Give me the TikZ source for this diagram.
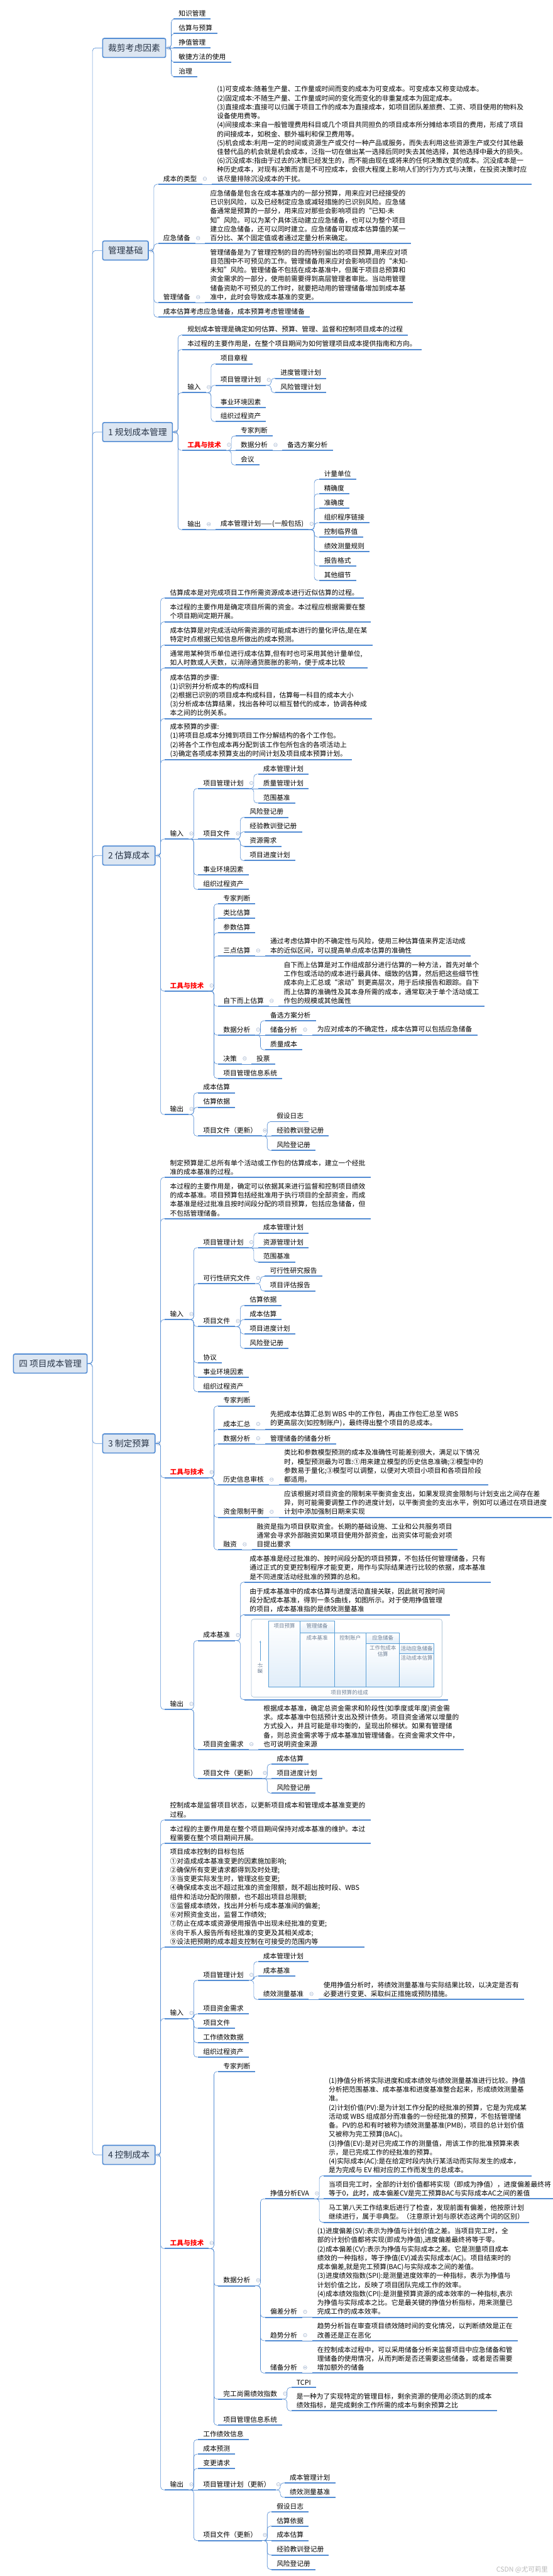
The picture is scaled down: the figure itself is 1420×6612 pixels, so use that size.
\documentclass[tikz,border=0pt]{standalone}
\usepackage{fontspec}
\setmainfont{Noto Sans CJK SC}
\usetikzlibrary{positioning,calc,arrows.meta}
\definecolor{LineBlue}{RGB}{84,141,212}
\definecolor{BoxFill}{RGB}{220,230,242}
\definecolor{BoxText}{RGB}{42,54,72}
\definecolor{FoldGray}{RGB}{165,182,208}
\definecolor{ToolRed}{RGB}{255,0,0}
\definecolor{CellBlue}{RGB}{88,158,214}
\definecolor{CellFill}{RGB}{224,237,249}
\definecolor{CellText}{RGB}{112,130,152}
\definecolor{FrameGray}{RGB}{176,198,216}

\begin{document}
\begin{tikzpicture}[
    x=1pt, y=-1pt,
    font=\fontsize{17.3}{23}\selectfont,
    uline/.style={draw=LineBlue, line width=3.2pt},
    fold/.style={draw=FoldGray, line width=0.9pt,
        to path={circle[radius=4.5pt] ++(-2.5pt,0) -- ++(5pt,0)}},
    topic/.style={anchor=south west, inner xsep=13pt, inner ysep=6pt, align=left,
        append after command={(\tikzlastnode.south west) edge[uline] (\tikzlastnode.south east)}},
    hub/.style={topic,
        append after command={([xshift=7pt]\tikzlastnode.east) edge[fold] ([xshift=7pt]\tikzlastnode.east)}},
    tools/.style={text=ToolRed, font=\fontsize{17.3}{23}\selectfont\bfseries},
    branch/.style={rectangle, rounded corners=4pt, draw=LineBlue, line width=2.6pt, fill=BoxFill,
        text=BoxText, font=\fontsize{22.3}{26}\selectfont, minimum height=49pt, inner xsep=14pt, anchor=west},
    branchhub/.style={branch,
        append after command={([xshift=7pt]\tikzlastnode.east) edge[fold] ([xshift=7pt]\tikzlastnode.east)}},
    link/.style={draw=LineBlue, line width=1pt, rounded corners=8pt},
    cell/.style={draw=CellBlue, line width=1.3pt, top color=white, bottom color=CellFill},
    celltext/.style={font=\fontsize{13.7}{16}\selectfont, text=CellText, align=center}
]
\fill[white] (0,0) rectangle (1420,6612);
\useasboundingbox (0,0) rectangle (1420,6612);

% root and main branches
\node[branch, anchor=east] (root) at (225,3500) {四 项目成本管理};
\node[branchhub] (tailor) at (262.5,123) {裁剪考虑因素};
\node[branchhub] (basics) at (262.5,643) {管理基础};
\node[branchhub] (plan) at (262.5,1109) {1 规划成本管理};
\node[branchhub] (est) at (262.5,2196) {2 估算成本};
\node[branchhub] (bud) at (262.5,3705) {3 制定预算};
\node[branchhub] (ctl) at (262.5,5531) {4 控制成本};

\draw[link] (root.east) -- ++(12.5,0) |- (tailor.west);
\draw[link] (root.east) -- ++(12.5,0) |- (basics.west);
\draw[link] (root.east) -- ++(12.5,0) |- (plan.west);
\draw[link] (root.east) -- ++(12.5,0) |- (est.west);
\draw[link] (root.east) -- ++(12.5,0) |- (bud.west);
\draw[link] (root.east) -- ++(12.5,0) |- (ctl.west);

% 裁剪考虑因素
\node[topic] (tknow) at ($(tailor.east |- 0,49)+(19,0)$) {知识管理};
\node[topic] (testi) at ($(tailor.east |- 0,86)+(19,0)$) {估算与预算};
\node[topic] (tev) at ($(tailor.east |- 0,123)+(19,0)$) {挣值管理};
\node[topic] (tagile) at ($(tailor.east |- 0,160)+(19,0)$) {敏捷方法的使用};
\node[topic] (tgov) at ($(tailor.east |- 0,197)+(19,0)$) {治理};
\draw[link] (tailor.east) -- ++(13,0) |- (tknow.south west);
\draw[link] (tailor.east) -- ++(13,0) |- (testi.south west);
\draw[link] (tailor.east) -- (tev.south west);
\draw[link] (tailor.east) -- ++(13,0) |- (tagile.south west);
\draw[link] (tailor.east) -- ++(13,0) |- (tgov.south west);

% 管理基础
\node[hub] (types) at ($(basics.east |- 0,473)+(24,0)$) {成本的类型};
\node[topic] (typesnote) at ($(types.south east |- 0,473)+(25,0)$) {(1)可变成本:随着生产量、工作量或时间而变的成本为可变成本。可变成本又称变动成本。\\(2)固定成本:不随生产量、工作量或时间的变化而变化的非重复成本为固定成本。\\(3)直接成本:直接可以归属于项目工作的成本为直接成本，如项目团队差旅费、工资、项目使用的物料及\\设备使用费等。\\(4)间接成本:来自一般管理费用科目或几个项目共同担负的项目成本所分摊给本项目的费用，形成了项目\\的间接成本，如税金、额外福利和保卫费用等。\\(5)机会成本:利用一定的时间或资源生产或交付一种产品或服务，而失去利用这些资源生产或交付其他最\\佳替代品的机会就是机会成本，泛指一切在做出某一选择后同时失去其他选择，其他选择中最大的损失。\\(6)沉没成本:指由于过去的决策已经发生的，而不能由现在或将来的任何决策改变的成本。沉没成本是一\\种历史成本，对现有决策而言是不可控成本，会很大程度上影响人们的行为方式与决策，在投资决策时应\\该尽量排除沉没成本的干扰。};
\node[hub] (cres) at ($(basics.east |- 0,625.4)+(24,0)$) {应急储备};
\node[topic] (cresnote) at ($(cres.south east |- 0,625.4)+(25,0)$) {应急储备是包含在成本基准内的一部分预算，用来应对已经接受的\\已识别风险，以及已经制定应急或减轻措施的已识别风险。应急储\\备通常是预算的一部分，用来应对那些会影响项目的“已知-未\\知”风险。可以为某个具体活动建立应急储备，也可以为整个项目\\建立应急储备，还可以同时建立。应急储备可取成本估算值的某一\\百分比、某个固定值或者通过定量分析来确定。};
\node[hub] (mres) at ($(basics.east |- 0,777)+(24,0)$) {管理储备};
\node[topic] (mresnote) at ($(mres.south east |- 0,777)+(25,0)$) {管理储备是为了管理控制的目的而特别留出的项目预算,用来应对项\\目范围中不可预见的工作。管理储备用来应对会影响项目的“未知-\\未知”风险。管理储备不包括在成本基准中，但属于项目总预算和\\资金需求的一部分，使用前需要得到高层管理者审批。当动用管理\\储备资助不可预见的工作时，就要把动用的管理储备增加到成本基\\准中，此时会导致成本基准的变更。};
\node[topic] (resnote) at ($(basics.east |- 0,814)+(24,0)$) {成本估算考虑应急储备，成本预算考虑管理储备};
\draw[link] (basics.east) -- ++(13,0) |- (types.south west);
\draw[link] (basics.east) -- ++(13,0) |- (cres.south west);
\draw[link] (basics.east) -- ++(13,0) |- (mres.south west);
\draw[link] (basics.east) -- ++(13,0) |- (resnote.south west);
\draw[link] (types.south east) -- (typesnote.south west);
\draw[link] (cres.south east) -- (cresnote.south west);
\draw[link] (mres.south east) -- (mresnote.south west);

% 1 规划成本管理
\node[topic] (pdef) at ($(plan.east |- 0,860)+(24,0)$) {规划成本管理是确定如何估算、预算、管理、监督和控制项目成本的过程};
\node[topic] (prole) at ($(plan.east |- 0,897)+(24,0)$) {本过程的主要作用是，在整个项目期间为如何管理项目成本提供指南和方向。};
\node[hub] (pin) at ($(plan.east |- 0,1008)+(24,0)$) {输入};
\node[topic] (pin1) at ($(pin.south east |- 0,934)+(24,0)$) {项目章程};
\node[hub] (pin2) at ($(pin.south east |- 0,989)+(24,0)$) {项目管理计划};
\node[topic] (pin2a) at ($(pin2.south east |- 0,971)+(24,0)$) {进度管理计划};
\node[topic] (pin2b) at ($(pin2.south east |- 0,1008)+(24,0)$) {风险管理计划};
\node[topic] (pin3) at ($(pin.south east |- 0,1046)+(24,0)$) {事业环境因素};
\node[topic] (pin4) at ($(pin.south east |- 0,1082)+(24,0)$) {组织过程资产};
\node[hub, tools] (ptt) at ($(plan.east |- 0,1156)+(24,0)$) {工具与技术};
\node[topic] (ptt1) at ($(ptt.south east |- 0,1119)+(24,0)$) {专家判断};
\node[hub] (ptt2) at ($(ptt.south east |- 0,1156)+(24,0)$) {数据分析};
\node[topic] (ptt2a) at ($(ptt2.south east |- 0,1156)+(24,0)$) {备选方案分析};
\node[topic] (ptt3) at ($(ptt.south east |- 0,1193.6)+(24,0)$) {会议};
\node[hub] (pout) at ($(plan.east |- 0,1359.6)+(24,0)$) {输出};
\node[hub] (pcmp) at ($(pout.south east |- 0,1359.6)+(24,0)$) {成本管理计划——(一般包括)};
\node[topic] (pc1) at ($(pcmp.south east |- 0,1230.7)+(26,0)$) {计量单位};
\node[topic] (pc2) at ($(pcmp.south east |- 0,1267.7)+(26,0)$) {精确度};
\node[topic] (pc3) at ($(pcmp.south east |- 0,1304.7)+(26,0)$) {准确度};
\node[topic] (pc4) at ($(pcmp.south east |- 0,1341.7)+(26,0)$) {组织程序链接};
\node[topic] (pc5) at ($(pcmp.south east |- 0,1378.7)+(26,0)$) {控制临界值};
\node[topic] (pc6) at ($(pcmp.south east |- 0,1415.7)+(26,0)$) {绩效测量规则};
\node[topic] (pc7) at ($(pcmp.south east |- 0,1452.7)+(26,0)$) {报告格式};
\node[topic] (pc8) at ($(pcmp.south east |- 0,1489.7)+(26,0)$) {其他细节};
\draw[link] (plan.east) -- ++(13,0) |- (pdef.south west);
\draw[link] (plan.east) -- ++(13,0) |- (prole.south west);
\draw[link] (plan.east) -- ++(13,0) |- (pin.south west);
\draw[link] (plan.east) -- ++(13,0) |- (ptt.south west);
\draw[link] (plan.east) -- ++(13,0) |- (pout.south west);
\draw[link] (pin.south east) -- ++(13,0) |- (pin1.south west);
\draw[link] (pin.south east) -- ++(13,0) |- (pin2.south west);
\draw[link] (pin.south east) -- ++(13,0) |- (pin3.south west);
\draw[link] (pin.south east) -- ++(13,0) |- (pin4.south west);
\draw[link] (pin2.south east) -- ++(13,0) |- (pin2a.south west);
\draw[link] (pin2.south east) -- ++(13,0) |- (pin2b.south west);
\draw[link] (ptt.south east) -- ++(13,0) |- (ptt1.south west);
\draw[link] (ptt.south east) -- (ptt2.south west);
\draw[link] (ptt.south east) -- ++(13,0) |- (ptt3.south west);
\draw[link] (ptt2.south east) -- (ptt2a.south west);
\draw[link] (pout.south east) -- (pcmp.south west);
\draw[link] (pcmp.south east) -- ++(14,0) |- (pc1.south west);
\draw[link] (pcmp.south east) -- ++(14,0) |- (pc2.south west);
\draw[link] (pcmp.south east) -- ++(14,0) |- (pc3.south west);
\draw[link] (pcmp.south east) -- ++(14,0) |- (pc4.south west);
\draw[link] (pcmp.south east) -- ++(14,0) |- (pc5.south west);
\draw[link] (pcmp.south east) -- ++(14,0) |- (pc6.south west);
\draw[link] (pcmp.south east) -- ++(14,0) |- (pc7.south west);
\draw[link] (pcmp.south east) -- ++(14,0) |- (pc8.south west);

% 2 估算成本
\node[topic] (edef) at ($(est.east |- 0,1535)+(24,0)$) {估算成本是对完成项目工作所需资源成本进行近似估算的过程。};
\node[topic] (erole) at ($(est.east |- 0,1596)+(24,0)$) {本过程的主要作用是确定项目所需的资金。本过程应根据需要在整\\个项目期间定期开展。};
\node[topic] (ewhat) at ($(est.east |- 0,1655.7)+(24,0)$) {成本估算是对完成活动所需资源的可能成本进行的量化评估,是在某\\特定时点根据已知信息所做出的成本预测。};
\node[topic] (eunit) at ($(est.east |- 0,1715)+(24,0)$) {通常用某种货币单位进行成本估算,但有时也可采用其他计量单位,\\如人时数或人天数，以消除通货膨胀的影响，便于成本比较};
\node[topic] (esteps) at ($(est.east |- 0,1844.6)+(24,0)$) {成本估算的步骤:\\(1)识别并分析成本的构成科目\\(2)根据已识别的项目成本构成科目，估算每一科目的成本大小\\(3)分析成本估算结果，找出各种可以相互替代的成本，协调各种成\\本之间的比例关系。};
\node[topic] (bsteps) at ($(est.east |- 0,1950.7)+(24,0)$) {成本预算的步骤:\\(1)将项目总成本分摊到项目工作分解结构的各个工作包。\\(2)将各个工作包成本再分配到该工作包所包含的各项活动上\\(3)确定各项成本预算支出的时间计划及项目成本预算计划。};
\node[hub] (ein) at ($(est.east |- 0,2153.6)+(24,0)$) {输入};
\node[hub] (ein1) at ($(ein.south east |- 0,2024)+(24,0)$) {项目管理计划};
\node[topic] (ein1a) at ($(ein1.south east |- 0,1987)+(24,0)$) {成本管理计划};
\node[topic] (ein1b) at ($(ein1.south east |- 0,2024)+(24,0)$) {质量管理计划};
\node[topic] (ein1c) at ($(ein1.south east |- 0,2061)+(24,0)$) {范围基准};
\node[hub] (ein2) at ($(ein.south east |- 0,2153.6)+(24,0)$) {项目文件};
\node[topic] (ein2a) at ($(ein2.south east |- 0,2098)+(24,0)$) {风险登记册};
\node[topic] (ein2b) at ($(ein2.south east |- 0,2135)+(24,0)$) {经验教训登记册};
\node[topic] (ein2c) at ($(ein2.south east |- 0,2172)+(24,0)$) {资源需求};
\node[topic] (ein2d) at ($(ein2.south east |- 0,2209)+(24,0)$) {项目进度计划};
\node[topic] (ein3) at ($(ein.south east |- 0,2246)+(24,0)$) {事业环境因素};
\node[topic] (ein4) at ($(ein.south east |- 0,2283)+(24,0)$) {组织过程资产};
\node[hub, tools] (ett) at ($(est.east |- 0,2544)+(24,0)$) {工具与技术};
\node[topic] (ett1) at ($(ett.south east |- 0,2320)+(24,0)$) {专家判断};
\node[topic] (ett2) at ($(ett.south east |- 0,2357)+(24,0)$) {类比估算};
\node[topic] (ett3) at ($(ett.south east |- 0,2394.6)+(24,0)$) {参数估算};
\node[hub] (ett4) at ($(ett.south east |- 0,2454)+(24,0)$) {三点估算};
\node[topic] (ett4n) at ($(ett4.south east |- 0,2454)+(25,0)$) {通过考虑估算中的不确定性与风险，使用三种估算值来界定活动成\\本的近似区间，可以提高单点成本估算的准确性};
\node[hub] (ett5) at ($(ett.south east |- 0,2583)+(24,0)$) {自下而上估算};
\node[topic] (ett5n) at ($(ett5.south east |- 0,2583)+(25,0)$) {自下而上估算是对工作组成部分进行估算的一种方法，首先对单个\\工作包或活动的成本进行最具体、细致的估算，然后把这些细节性\\成本向上汇总或“滚动”到更高层次，用于后续报告和跟踪。自下\\而上估算的准确性及其本身所需的成本，通常取决于单个活动或工\\作包的规模或其他属性};
\node[hub] (ett6) at ($(ett.south east |- 0,2657)+(24,0)$) {数据分析};
\node[topic] (ett6a) at ($(ett6.south east |- 0,2620)+(25,0)$) {备选方案分析};
\node[hub] (ett6b) at ($(ett6.south east |- 0,2657)+(25,0)$) {储备分析};
\node[topic] (ett6bn) at ($(ett6b.south east |- 0,2657)+(25,0)$) {为应对成本的不确定性，成本估算可以包括应急储备};
\node[topic] (ett6c) at ($(ett6.south east |- 0,2694.6)+(25,0)$) {质量成本};
\node[hub] (ett7) at ($(ett.south east |- 0,2731)+(24,0)$) {决策};
\node[topic] (ett7a) at ($(ett7.south east |- 0,2731)+(24,0)$) {投票};
\node[topic] (ett8) at ($(ett.south east |- 0,2768)+(24,0)$) {项目管理信息系统};
\node[hub] (eout) at ($(est.east |- 0,2860.7)+(24,0)$) {输出};
\node[topic] (eout1) at ($(eout.south east |- 0,2805)+(24,0)$) {成本估算};
\node[topic] (eout2) at ($(eout.south east |- 0,2842)+(24,0)$) {估算依据};
\node[hub] (eout3) at ($(eout.south east |- 0,2916)+(24,0)$) {项目文件（更新）};
\node[topic] (eout3a) at ($(eout3.south east |- 0,2879)+(24,0)$) {假设日志};
\node[topic] (eout3b) at ($(eout3.south east |- 0,2916)+(24,0)$) {经验教训登记册};
\node[topic] (eout3c) at ($(eout3.south east |- 0,2953)+(24,0)$) {风险登记册};
\draw[link] (est.east) -- ++(13,0) |- (edef.south west);
\draw[link] (est.east) -- ++(13,0) |- (erole.south west);
\draw[link] (est.east) -- ++(13,0) |- (ewhat.south west);
\draw[link] (est.east) -- ++(13,0) |- (eunit.south west);
\draw[link] (est.east) -- ++(13,0) |- (esteps.south west);
\draw[link] (est.east) -- ++(13,0) |- (bsteps.south west);
\draw[link] (est.east) -- ++(13,0) |- (ein.south west);
\draw[link] (est.east) -- ++(13,0) |- (ett.south west);
\draw[link] (est.east) -- ++(13,0) |- (eout.south west);
\draw[link] (ein.south east) -- ++(13,0) |- (ein1.south west);
\draw[link] (ein.south east) -- (ein2.south west);
\draw[link] (ein.south east) -- ++(13,0) |- (ein3.south west);
\draw[link] (ein.south east) -- ++(13,0) |- (ein4.south west);
\draw[link] (ein1.south east) -- ++(13,0) |- (ein1a.south west);
\draw[link] (ein1.south east) -- (ein1b.south west);
\draw[link] (ein1.south east) -- ++(13,0) |- (ein1c.south west);
\draw[link] (ein2.south east) -- ++(13,0) |- (ein2a.south west);
\draw[link] (ein2.south east) -- ++(13,0) |- (ein2b.south west);
\draw[link] (ein2.south east) -- ++(13,0) |- (ein2c.south west);
\draw[link] (ein2.south east) -- ++(13,0) |- (ein2d.south west);
\draw[link] (ett.south east) -- ++(13,0) |- (ett1.south west);
\draw[link] (ett.south east) -- ++(13,0) |- (ett2.south west);
\draw[link] (ett.south east) -- ++(13,0) |- (ett3.south west);
\draw[link] (ett.south east) -- ++(13,0) |- (ett4.south west);
\draw[link] (ett.south east) -- ++(13,0) |- (ett5.south west);
\draw[link] (ett.south east) -- ++(13,0) |- (ett6.south west);
\draw[link] (ett.south east) -- ++(13,0) |- (ett7.south west);
\draw[link] (ett.south east) -- ++(13,0) |- (ett8.south west);
\draw[link] (ett4.south east) -- (ett4n.south west);
\draw[link] (ett5.south east) -- (ett5n.south west);
\draw[link] (ett6.south east) -- ++(13,0) |- (ett6a.south west);
\draw[link] (ett6.south east) -- (ett6b.south west);
\draw[link] (ett6.south east) -- ++(13,0) |- (ett6c.south west);
\draw[link] (ett6b.south east) -- (ett6bn.south west);
\draw[link] (ett7.south east) -- (ett7a.south west);
\draw[link] (eout.south east) -- ++(13,0) |- (eout1.south west);
\draw[link] (eout.south east) -- ++(13,0) |- (eout2.south west);
\draw[link] (eout.south east) -- ++(13,0) |- (eout3.south west);
\draw[link] (eout3.south east) -- ++(13,0) |- (eout3a.south west);
\draw[link] (eout3.south east) -- (eout3b.south west);
\draw[link] (eout3.south east) -- ++(13,0) |- (eout3c.south west);

% 3 制定预算
\node[topic] (bdef) at ($(bud.east |- 0,3022)+(24,0)$) {制定预算是汇总所有单个活动或工作包的估算成本，建立一个经批\\准的成本基准的过程。};
\node[topic] (brole) at ($(bud.east |- 0,3128)+(24,0)$) {本过程的主要作用是，确定可以依据其来进行监督和控制项目绩效\\的成本基准。项目预算包括经批准用于执行项目的全部资金，而成\\本基准是经过批准且按时间段分配的项目预算，包括应急储备，但\\不包括管理储备。};
\node[hub] (bin) at ($(bud.east |- 0,3387)+(24,0)$) {输入};
\node[hub] (bin1) at ($(bin.south east |- 0,3202.5)+(24,0)$) {项目管理计划};
\node[topic] (bin1a) at ($(bin1.south east |- 0,3165)+(24,0)$) {成本管理计划};
\node[topic] (bin1b) at ($(bin1.south east |- 0,3202.5)+(24,0)$) {资源管理计划};
\node[topic] (bin1c) at ($(bin1.south east |- 0,3239)+(24,0)$) {范围基准};
\node[hub] (bin2) at ($(bin.south east |- 0,3294.6)+(24,0)$) {可行性研究文件};
\node[topic] (bin2a) at ($(bin2.south east |- 0,3276)+(24,0)$) {可行性研究报告};
\node[topic] (bin2b) at ($(bin2.south east |- 0,3313.6)+(24,0)$) {项目评估报告};
\node[hub] (bin3) at ($(bin.south east |- 0,3405)+(24,0)$) {项目文件};
\node[topic] (bin3a) at ($(bin3.south east |- 0,3350.7)+(24,0)$) {估算依据};
\node[topic] (bin3b) at ($(bin3.south east |- 0,3387)+(24,0)$) {成本估算};
\node[topic] (bin3c) at ($(bin3.south east |- 0,3424)+(24,0)$) {项目进度计划};
\node[topic] (bin3d) at ($(bin3.south east |- 0,3461)+(24,0)$) {风险登记册};
\node[topic] (bin4) at ($(bin.south east |- 0,3498)+(24,0)$) {协议};
\node[topic] (bin5) at ($(bin.south east |- 0,3535)+(24,0)$) {事业环境因素};
\node[topic] (bin6) at ($(bin.south east |- 0,3572)+(24,0)$) {组织过程资产};
\node[hub, tools] (btt) at ($(bud.east |- 0,3793)+(24,0)$) {工具与技术};
\node[topic] (btt1) at ($(btt.south east |- 0,3609)+(24,0)$) {专家判断};
\node[hub] (btt2) at ($(btt.south east |- 0,3669)+(24,0)$) {成本汇总};
\node[topic] (btt2n) at ($(btt2.south east |- 0,3669)+(25,0)$) {先把成本估算汇总到 WBS 中的工作包，再由工作包汇总至 WBS\\的更高层次(如控制账户)，最终得出整个项目的总成本。};
\node[hub] (btt3) at ($(btt.south east |- 0,3706)+(24,0)$) {数据分析};
\node[topic] (btt3a) at ($(btt3.south east |- 0,3706)+(25,0)$) {管理储备的储备分析};
\node[hub] (btt4) at ($(btt.south east |- 0,3812)+(24,0)$) {历史信息审核};
\node[topic] (btt4n) at ($(btt4.south east |- 0,3812)+(26,0)$) {类比和参数模型预测的成本及准确性可能差别很大，满足以下情况\\时，模型预测最为可靠:①用来建立模型的历史信息准确;②模型中的\\参数易于量化;③模型可以调整，以便对大项目小项目和各项目阶段\\都适用。};
\node[hub] (btt5) at ($(btt.south east |- 0,3894.6)+(24,0)$) {资金限制平衡};
\node[topic] (btt5n) at ($(btt5.south east |- 0,3894.6)+(26,0)$) {应该根据对项目资金的限制来平衡资金支出，如果发现资金限制与计划支出之间存在差\\异，则可能需要调整工作的进度计划，以平衡资金的支出水平，例如可以通过在项目进度\\计划中添加强制日期来实现};
\node[hub] (btt6) at ($(btt.south east |- 0,3978)+(24,0)$) {融资};
\node[topic] (btt6n) at ($(btt6.south east |- 0,3978)+(25,0)$) {融资是指为项目获取资金。长期的基础设施、工业和公共服务项目\\通常会寻求外部融资如果项目使用外部资金，出资实体可能会对项\\目提出要求};
\node[hub] (bout) at ($(bud.east |- 0,4387.5)+(24,0)$) {输出};
\node[hub] (cbase) at ($(bout.south east |- 0,4211)+(24,0)$) {成本基准};
\node[topic] (cbase1) at ($(cbase.south east |- 0,4061)+(24,0)$) {成本基准是经过批准的、按时间段分配的项目预算，不包括任何管理储备，只有\\通过正式的变更控制程序才能变更，用作与实际结果进行比较的依据，成本基准\\是不同进度活动经批准的预算的总和。};
\node[topic] (cbase2) at ($(cbase.south east |- 0,4144.6)+(24,0)$) {由于成本基准中的成本估算与进度活动直接关联，因此就可按时间\\段分配成本基准，得到一条S曲线，如图所示。对于使用挣值管理\\的项目，成本基准指的是绩效测量基准};
\node[topic, minimum width=522pt, minimum height=212pt] (chart) at ($(cbase.south east |- 0,4362.5)+(24,0)$) {};
\begin{scope}[shift={(chart.south west)}]
  \draw[draw=FrameGray, line width=1.2pt, rounded corners=6pt, fill=white] (17.4,-206.5) rectangle (507.4,-6.5);
  \draw[cell] (62.4,-201.5) rectangle (142.4,-32.5);
  \draw[cell] (142.4,-201.5) rectangle (230.4,-170.5);
  \draw[cell] (142.4,-170.5) rectangle (230.4,-32.5);
  \draw[cell] (230.4,-170.5) rectangle (312.4,-32.5);
  \draw[cell] (312.4,-170.5) rectangle (398,-143.5);
  \draw[cell] (312.4,-143.5) rectangle (398,-32.5);
  \draw[cell] (398,-143.5) rectangle (486.4,-117.9);
  \draw[cell] (398,-117.9) rectangle (486.4,-32.5);
  \node[celltext] (ctbudget) at (102.4,-188.9) {项目预算};
  \node[celltext] (ctmres) at (186.4,-189.5) {管理储备};
  \node[celltext] (ctbase) at (186.4,-158.9) {成本基准};
  \node[celltext] (ctacct) at (271.4,-158.9) {控制账户};
  \node[celltext] (ctcres) at (355.2,-158.9) {应急储备};
  \node[celltext] (ctwp) at (355.2,-124.5) {工作包成本\\估算};
  \node[celltext] (ctares) at (442.2,-130.5) {活动应急储备};
  \node[celltext] (ctacost) at (442.2,-106.5) {活动成本估算};
  \node[celltext] (ctcap) at (269.4,-17.5) {项目预算的组成};
  \node[celltext, rotate=90] (ctaxis) at (40.4,-80.5) {累计};
  \draw[CellBlue, line width=0.9pt, -{Stealth[length=5pt]}] (40.4,-98.5) -- (40.4,-151.5);
\end{scope}
\node[hub] (bfund) at ($(bout.south east |- 0,4491)+(24,0)$) {项目资金需求};
\node[topic] (bfundn) at ($(bfund.south east |- 0,4491)+(25,0)$) {根据成本基准，确定总资金需求和阶段性(如季度或年度)资金需\\求。成本基准中包括预计支出及预计债务。项目资金通常以增量的\\方式投入，并且可能是非均衡的，呈现出阶梯状。如果有管理储\\备，则总资金需求等于成本基准加管理储备。在资金需求文件中，\\也可说明资金来源};
\node[hub] (bdocs) at ($(bout.south east |- 0,4565)+(24,0)$) {项目文件（更新）};
\node[topic] (bdocs1) at ($(bdocs.south east |- 0,4528)+(24,0)$) {成本估算};
\node[topic] (bdocs2) at ($(bdocs.south east |- 0,4565)+(24,0)$) {项目进度计划};
\node[topic] (bdocs3) at ($(bdocs.south east |- 0,4602.5)+(24,0)$) {风险登记册};
\draw[link] (bud.east) -- ++(13,0) |- (bdef.south west);
\draw[link] (bud.east) -- ++(13,0) |- (brole.south west);
\draw[link] (bud.east) -- ++(13,0) |- (bin.south west);
\draw[link] (bud.east) -- ++(13,0) |- (btt.south west);
\draw[link] (bud.east) -- ++(13,0) |- (bout.south west);
\draw[link] (bin.south east) -- ++(13,0) |- (bin1.south west);
\draw[link] (bin.south east) -- ++(13,0) |- (bin2.south west);
\draw[link] (bin.south east) -- ++(13,0) |- (bin3.south west);
\draw[link] (bin.south east) -- ++(13,0) |- (bin4.south west);
\draw[link] (bin.south east) -- ++(13,0) |- (bin5.south west);
\draw[link] (bin.south east) -- ++(13,0) |- (bin6.south west);
\draw[link] (bin1.south east) -- ++(13,0) |- (bin1a.south west);
\draw[link] (bin1.south east) -- (bin1b.south west);
\draw[link] (bin1.south east) -- ++(13,0) |- (bin1c.south west);
\draw[link] (bin2.south east) -- ++(13,0) |- (bin2a.south west);
\draw[link] (bin2.south east) -- ++(13,0) |- (bin2b.south west);
\draw[link] (bin3.south east) -- ++(13,0) |- (bin3a.south west);
\draw[link] (bin3.south east) -- ++(13,0) |- (bin3b.south west);
\draw[link] (bin3.south east) -- ++(13,0) |- (bin3c.south west);
\draw[link] (bin3.south east) -- ++(13,0) |- (bin3d.south west);
\draw[link] (btt.south east) -- ++(13,0) |- (btt1.south west);
\draw[link] (btt.south east) -- ++(13,0) |- (btt2.south west);
\draw[link] (btt.south east) -- ++(13,0) |- (btt3.south west);
\draw[link] (btt.south east) -- ++(13,0) |- (btt4.south west);
\draw[link] (btt.south east) -- ++(13,0) |- (btt5.south west);
\draw[link] (btt.south east) -- ++(13,0) |- (btt6.south west);
\draw[link] (btt2.south east) -- (btt2n.south west);
\draw[link] (btt3.south east) -- (btt3a.south west);
\draw[link] (btt4.south east) -- (btt4n.south west);
\draw[link] (btt5.south east) -- (btt5n.south west);
\draw[link] (btt6.south east) -- (btt6n.south west);
\draw[link] (bout.south east) -- ++(13,0) |- (cbase.south west);
\draw[link] (bout.south east) -- ++(13,0) |- (bfund.south west);
\draw[link] (bout.south east) -- ++(13,0) |- (bdocs.south west);
\draw[link] (cbase.south east) -- ++(13,0) |- (cbase1.south west);
\draw[link] (cbase.south east) -- ++(13,0) |- (cbase2.south west);
\draw[link] (cbase.south east) -- ++(13,0) |- (chart.south west);
\draw[link] (bfund.south east) -- (bfundn.south west);
\draw[link] (bdocs.south east) -- ++(13,0) |- (bdocs1.south west);
\draw[link] (bdocs.south east) -- (bdocs2.south west);
\draw[link] (bdocs.south east) -- ++(13,0) |- (bdocs3.south west);

% 4 控制成本
\node[topic] (cdef) at ($(ctl.east |- 0,4671.4)+(24,0)$) {控制成本是监督项目状态，以更新项目成本和管理成本基准变更的\\过程。};
\node[topic] (crole) at ($(ctl.east |- 0,4731.4)+(24,0)$) {本过程的主要作用是在整个项目期间保持对成本基准的维护。本过\\程需要在整个项目期间开展。};
\node[topic] (cgoal) at ($(ctl.east |- 0,4998)+(24,0)$) {项目成本控制的目标包括\\①对造成成本基准变更的因素施加影响;\\②确保所有变更请求都得到及时处理;\\③当变更实际发生时，管理这些变更;\\④确保成本支出不超过批准的资金限额，既不超出按时段、WBS\\组件和活动分配的限额，也不超出项目总限额;\\⑤监督成本绩效，找出并分析与成本基准间的偏差;\\⑥对照资金支出，监督工作绩效;\\⑦防止在成本或资源使用报告中出现未经批准的变更;\\⑧向干系人报告所有经批准的变更及其相关成本;\\⑨设法把预期的成本超支控制在可接受的范围内等};
\node[hub] (cin) at ($(ctl.east |- 0,5181)+(24,0)$) {输入};
\node[hub] (cin1) at ($(cin.south east |- 0,5083)+(24,0)$) {项目管理计划};
\node[topic] (cin1a) at ($(cin1.south east |- 0,5035)+(24,0)$) {成本管理计划};
\node[topic] (cin1b) at ($(cin1.south east |- 0,5072)+(24,0)$) {成本基准};
\node[hub] (cin1c) at ($(cin1.south east |- 0,5132)+(24,0)$) {绩效测量基准};
\node[topic] (cin1cn) at ($(cin1c.south east |- 0,5132)+(25,0)$) {使用挣值分析时，将绩效测量基准与实际结果比较，以决定是否有\\必要进行变更、采取纠正措施或预防措施。};
\node[topic] (cin2) at ($(cin.south east |- 0,5169)+(24,0)$) {项目资金需求};
\node[topic] (cin3) at ($(cin.south east |- 0,5206)+(24,0)$) {项目文件};
\node[topic] (cin4) at ($(cin.south east |- 0,5243)+(24,0)$) {工作绩效数据};
\node[topic] (cin5) at ($(cin.south east |- 0,5280)+(24,0)$) {组织过程资产};
\node[hub, tools] (ctt) at ($(ctl.east |- 0,5771.4)+(24,0)$) {工具与技术};
\node[topic] (ctt1) at ($(ctt.south east |- 0,5317)+(24,0)$) {专家判断};
\node[hub] (ctt2) at ($(ctt.south east |- 0,5867)+(24,0)$) {数据分析};
\node[hub] (eva) at ($(ctt2.south east |- 0,5644)+(25,0)$) {挣值分析EVA};
\node[topic] (eva1) at ($(eva.south east |- 0,5584.6)+(24,0)$) {(1)挣值分析将实际进度和成本绩效与绩效测量基准进行比较。挣值\\分析把范围基准、成本基准和进度基准整合起来，形成绩效测量基\\准。\\(2)计划价值(PV):是为计划工作分配的经批准的预算，它是为完成某\\活动或 WBS 组成部分而准备的一份经批准的预算，不包括管理储\\备。PV的总和有时被称为绩效测量基准(PMB)，项目的总计划价值\\又被称为完工预算(BAC)。\\(3)挣值(EV):是对已完成工作的测量值，用该工作的批准预算来表\\示，是已完成工作的经批准的预算。\\(4)实际成本(AC):是在给定时段内执行某活动而实际发生的成本，\\是为完成与 EV 相对应的工作而发生的总成本。};
\node[topic] (eva2) at ($(eva.south east |- 0,5644)+(24,0)$) {当项目完工时，全部的计划价值都将实现（即成为挣值），进度偏差最终将\\等于0，此时，成本偏差CV是完工预算BAC与实际成本AC之间的差值};
\node[topic] (eva3) at ($(eva.south east |- 0,5704)+(24,0)$) {马工第八天工作结束后进行了检查，发现前面有偏差，他按原计划\\继续进行，属于非典型。（注意原计划与原状态这两个词的区别）};
\node[hub] (cvar) at ($(ctt2.south east |- 0,5948)+(25,0)$) {偏差分析};
\node[topic] (cvarn) at ($(cvar.south east |- 0,5948)+(25,0)$) {(1)进度偏差(SV):表示为挣值与计划价值之差。当项目完工时，全\\部的计划价值都将实现(即成为挣值),进度偏差最终将等于零。\\(2)成本偏差(CV):表示为挣值与实际成本之差。它是测量项目成本\\绩效的一种指标，等于挣值(EV)减去实际成本(AC)。项目结束时的\\成本偏差,就是完工预算(BAC)与实际成本之间的差值。\\(3)进度绩效指数(SPI):是测量进度效率的一种指标，表示为挣值与\\计划价值之比，反映了项目团队完成工作的效率。\\(4)成本绩效指数(CPI):是测量预算资源的成本效率的一种指标,表示\\为挣值与实际成本之比。它是最关键的挣值分析指标，用来测量已\\完成工作的成本效率。};
\node[hub] (ctrend) at ($(ctt2.south east |- 0,6008)+(25,0)$) {趋势分析};
\node[topic] (ctrendn) at ($(ctrend.south east |- 0,6008)+(25,0)$) {趋势分析旨在审查项目绩效随时间的变化情况，以判断绩效是正在\\改善还是正在恶化};
\node[hub] (cresv) at ($(ctt2.south east |- 0,6091)+(25,0)$) {储备分析};
\node[topic] (cresvn) at ($(cresv.south east |- 0,6091)+(25,0)$) {在控制成本过程中，可以采用储备分析来监督项目中应急储备和管\\理储备的使用情况，从而判断是否还需要这些储备，或者是否需要\\增加额外的储备};
\node[hub] (ctt3) at ($(ctt.south east |- 0,6158)+(24,0)$) {完工尚需绩效指数};
\node[topic] (ctt3a) at ($(ctt3.south east |- 0,6128)+(23,0)$) {TCPI};
\node[topic] (ctt3b) at ($(ctt3.south east |- 0,6188)+(23,0)$) {是一种为了实现特定的管理目标，剩余资源的使用必须达到的成本\\绩效指标，是完成剩余工作所需的成本与剩余预算之比};
\node[topic] (ctt4) at ($(ctt.south east |- 0,6225)+(24,0)$) {项目管理信息系统};
\node[hub] (cout) at ($(ctl.east |- 0,6391)+(24,0)$) {输出};
\node[topic] (cout1) at ($(cout.south east |- 0,6262)+(24,0)$) {工作绩效信息};
\node[topic] (cout2) at ($(cout.south east |- 0,6299)+(24,0)$) {成本预测};
\node[topic] (cout3) at ($(cout.south east |- 0,6336)+(24,0)$) {变更请求};
\node[hub] (cout4) at ($(cout.south east |- 0,6391)+(24,0)$) {项目管理计划（更新）};
\node[topic] (cout4a) at ($(cout4.south east |- 0,6373)+(23,0)$) {成本管理计划};
\node[topic] (cout4b) at ($(cout4.south east |- 0,6410)+(23,0)$) {绩效测量基准};
\node[hub] (cout5) at ($(cout.south east |- 0,6521)+(24,0)$) {项目文件（更新）};
\node[topic] (cout5a) at ($(cout5.south east |- 0,6447)+(24,0)$) {假设日志};
\node[topic] (cout5b) at ($(cout5.south east |- 0,6484)+(24,0)$) {估算依据};
\node[topic] (cout5c) at ($(cout5.south east |- 0,6521)+(24,0)$) {成本估算};
\node[topic] (cout5d) at ($(cout5.south east |- 0,6558)+(24,0)$) {经验教训登记册};
\node[topic] (cout5e) at ($(cout5.south east |- 0,6595)+(24,0)$) {风险登记册};
\draw[link] (ctl.east) -- ++(13,0) |- (cdef.south west);
\draw[link] (ctl.east) -- ++(13,0) |- (crole.south west);
\draw[link] (ctl.east) -- ++(13,0) |- (cgoal.south west);
\draw[link] (ctl.east) -- ++(13,0) |- (cin.south west);
\draw[link] (ctl.east) -- ++(13,0) |- (ctt.south west);
\draw[link] (ctl.east) -- ++(13,0) |- (cout.south west);
\draw[link] (cin.south east) -- ++(13,0) |- (cin1.south west);
\draw[link] (cin.south east) -- ++(13,0) |- (cin2.south west);
\draw[link] (cin.south east) -- ++(13,0) |- (cin3.south west);
\draw[link] (cin.south east) -- ++(13,0) |- (cin4.south west);
\draw[link] (cin.south east) -- ++(13,0) |- (cin5.south west);
\draw[link] (cin1.south east) -- ++(13,0) |- (cin1a.south west);
\draw[link] (cin1.south east) -- ++(13,0) |- (cin1b.south west);
\draw[link] (cin1.south east) -- ++(13,0) |- (cin1c.south west);
\draw[link] (cin1c.south east) -- (cin1cn.south west);
\draw[link] (ctt.south east) -- ++(13,0) |- (ctt1.south west);
\draw[link] (ctt.south east) -- ++(13,0) |- (ctt2.south west);
\draw[link] (ctt.south east) -- ++(13,0) |- (ctt3.south west);
\draw[link] (ctt.south east) -- ++(13,0) |- (ctt4.south west);
\draw[link] (ctt2.south east) -- ++(13,0) |- (eva.south west);
\draw[link] (ctt2.south east) -- ++(13,0) |- (cvar.south west);
\draw[link] (ctt2.south east) -- ++(13,0) |- (ctrend.south west);
\draw[link] (ctt2.south east) -- ++(13,0) |- (cresv.south west);
\draw[link] (eva.south east) -- ++(13,0) |- (eva1.south west);
\draw[link] (eva.south east) -- (eva2.south west);
\draw[link] (eva.south east) -- ++(13,0) |- (eva3.south west);
\draw[link] (cvar.south east) -- (cvarn.south west);
\draw[link] (ctrend.south east) -- (ctrendn.south west);
\draw[link] (cresv.south east) -- (cresvn.south west);
\draw[link] (ctt3.south east) -- ++(12,0) |- (ctt3a.south west);
\draw[link] (ctt3.south east) -- ++(12,0) |- (ctt3b.south west);
\draw[link] (cout.south east) -- ++(13,0) |- (cout1.south west);
\draw[link] (cout.south east) -- ++(13,0) |- (cout2.south west);
\draw[link] (cout.south east) -- ++(13,0) |- (cout3.south west);
\draw[link] (cout.south east) -- (cout4.south west);
\draw[link] (cout.south east) -- ++(13,0) |- (cout5.south west);
\draw[link] (cout4.south east) -- ++(12,0) |- (cout4a.south west);
\draw[link] (cout4.south east) -- ++(12,0) |- (cout4b.south west);
\draw[link] (cout5.south east) -- ++(13,0) |- (cout5a.south west);
\draw[link] (cout5.south east) -- ++(13,0) |- (cout5b.south west);
\draw[link] (cout5.south east) -- (cout5c.south west);
\draw[link] (cout5.south east) -- ++(13,0) |- (cout5d.south west);
\draw[link] (cout5.south east) -- ++(13,0) |- (cout5e.south west);

\node[text=gray!55, font=\fontsize{17}{20}\selectfont, anchor=east] (mark) at (1411,6595) {CSDN @尤可莉里};
\end{tikzpicture}
\end{document}
